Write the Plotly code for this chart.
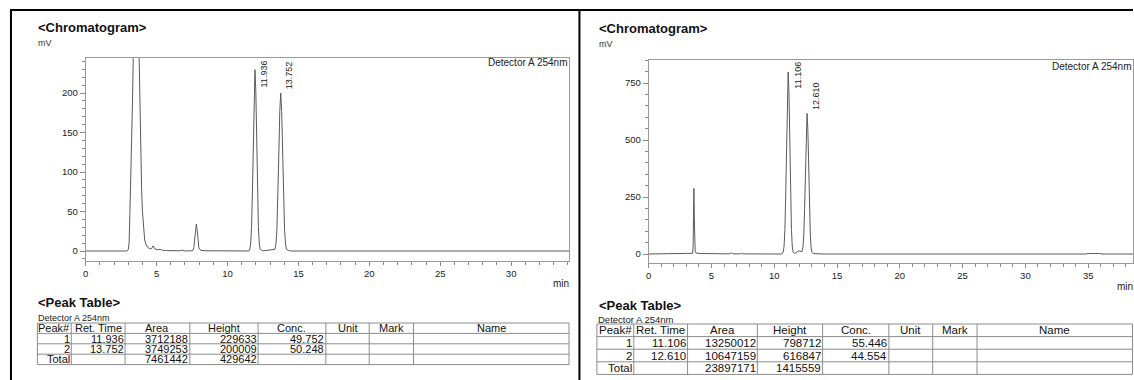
import plotly.graph_objects as go

W, H = 1134, 380
FONT = "Liberation Sans"

# ---------------- data ----------------
# Left chromatogram: time (min) and signal (mV)
left_time = [0.0, 2.9, 3.0, 3.06, 3.12, 3.2, 3.25, 3.3, 3.35, 3.42, 3.55, 3.68, 3.77, 3.83, 3.88,
             3.94, 4.0, 4.08, 4.16, 4.24, 4.35, 4.5, 4.65, 4.75, 4.82, 4.9, 5.05, 5.25, 5.4, 5.7,
             6.7, 6.85, 7.0, 7.55, 7.62, 7.68, 7.74, 7.8, 7.86, 7.92, 7.98, 8.1, 8.4, 11.5,
             11.576, 11.636, 11.696, 11.756, 11.816, 11.876, 11.936, 11.996, 12.056, 12.116,
             12.176, 12.236, 12.296, 12.4, 12.55,
             13.347, 13.415, 13.482, 13.55, 13.617, 13.685, 13.752, 13.82, 13.887, 13.955,
             14.022, 14.09, 14.157, 14.3, 14.5, 34.08]
left_mv = [0.0, 0.0, 1.5, 10, 50, 100, 128, 190, 244, 400, 600, 400, 244, 170, 128,
           80, 50, 25, 14, 9, 5, 3, 3, 6.5, 5, 2.5, 1.5, 2, 1, 0.5,
           0.3, 1, 0, 0.3, 4, 14, 27, 34, 27, 12, 4, 1, 0.3, 0,
           2.5, 10.1, 31.1, 74.6, 139.3, 202.6, 229.6, 202.6, 139.3, 74.6,
           31.1, 10.1, 2.5, 0.8, 0.2,
           2.2, 8.8, 27.1, 64.9, 121.3, 176.5, 200.0, 176.5, 121.3, 64.9,
           27.1, 8.8, 2.2, 0.5, 0, 0]

# Right chromatogram: time (min) and signal (mV)
right_time = [0.0, 3.45, 3.5, 3.54, 3.57, 3.6, 3.63, 3.66, 3.7, 3.76, 3.9, 4.3, 4.6, 4.7, 4.8,
              5.2, 6.4, 6.55, 6.6, 6.66, 6.8, 7.3, 7.38, 7.45, 7.6, 10.6,
              10.716, 10.781, 10.846, 10.911, 10.976, 11.041, 11.106, 11.171, 11.236, 11.301,
              11.366, 11.431, 11.496, 11.6, 11.75, 11.88, 11.97, 12.05, 12.13, 12.22,
              12.285, 12.35, 12.415, 12.48, 12.545, 12.61, 12.675, 12.74, 12.805, 12.87,
              12.935, 13.0, 13.15, 13.4, 14.0, 34.8, 35.0, 35.9, 36.1, 38.57]
right_mv = [0.0, 0.5, 3, 40, 150, 288, 160, 50, 12, 5, 3, 2, 2, 4, 2,
            1.5, 0.5, 1.5, 5, 1.5, 0.5, 0.5, 3, 1, 0.5, 0,
            8.9, 35.1, 108.1, 259.3, 484.4, 704.9, 798.7, 704.9, 484.4, 259.3,
            108.1, 35.1, 8.9, 4, 5, 12, 15, 14, 10, 11,
            30, 83.5, 200.3, 374.1, 544.3, 616.8, 544.3, 374.1, 200.3, 83.5,
            27.1, 6.8, 1.5, 0.5, 0, 0, 2, 2, 0, 0]

# Peak tables
table_header = ["Peak#", "Ret. Time", "Area", "Height", "Conc.", "Unit", "Mark", "Name"]

left_peak_no = ["1", "2", "Total"]
left_ret_time = ["11.936", "13.752", ""]
left_area = ["3712188", "3749253", "7461442"]
left_height = ["229633", "200009", "429642"]
left_conc = ["49.752", "50.248", ""]

right_peak_no = ["1", "2", "Total"]
right_ret_time = ["11.106", "12.610", ""]
right_area = ["13250012", "10647159", "23897171"]
right_height = ["798712", "616847", "1415559"]
right_conc = ["55.446", "44.554", ""]

# Peak labels (retention time, height in µV from the table)
left_label_times = [11.936, 13.752]
left_label_heights_uv = [229633, 200009]
right_label_times = [11.106, 12.610]
right_label_heights_uv = [798712, 616847]

# ---------------- layout geometry (pixels) ----------------
L = dict(x0=83, x1=568, top=58, bot=261, xr=[0, 34.08], yr=[-12.66, 244.3], dy=50, mdy=10)
R = dict(x0=648, x1=1134, top=60, bot=263, xr=[0, 38.57], yr=[-39.5, 851], dy=250, mdy=50)


def px(x):
    return x / W


def py(y):
    return 1 - y / H


fig = go.Figure()
line_style = dict(color="#5a5a5a", width=1)
fig.add_trace(go.Scatter(x=left_time, y=left_mv, mode="lines", line=line_style,
                         xaxis="x", yaxis="y", hoverinfo="skip", showlegend=False))
fig.add_trace(go.Scatter(x=right_time, y=right_mv, mode="lines", line=line_style,
                         xaxis="x2", yaxis="y2", hoverinfo="skip", showlegend=False))

axis_common = dict(showline=True, linecolor="#9a9a9a", linewidth=1, mirror=True,
                   ticks="outside", tickcolor="#8a8a8a", showgrid=False, zeroline=False,
                   tickfont=dict(family=FONT, size=9.5, color="#222"), fixedrange=True)


def xaxis_cfg(P, anchor):
    return dict(axis_common, domain=[px(P["x0"]), px(P["x1"])], range=P["xr"], anchor=anchor,
                tickmode="linear", tick0=0, dtick=5, ticklen=4,
                minor=dict(ticks="outside", ticklen=3, dtick=1, tick0=0, tickcolor="#8a8a8a"))


def yaxis_cfg(P, anchor):
    return dict(axis_common, domain=[py(P["bot"]), py(P["top"])], range=P["yr"], anchor=anchor,
                tickmode="linear", tick0=0, dtick=P["dy"], ticklen=5,
                minor=dict(ticks="outside", ticklen=3, dtick=P["mdy"], tick0=0, tickcolor="#8a8a8a"))


annotations = []
shapes = []


def text(x, y, s, size, xanchor="left", bold=False, color="#111", **kw):
    annotations.append(dict(x=px(x), y=py(y), xref="paper", yref="paper", text=f"<b>{s}</b>" if bold else s,
                            showarrow=False, xanchor=xanchor, yanchor="middle",
                            font=dict(family=FONT, size=size, color=color),
                            borderpad=0, borderwidth=0, **kw))


def hline(x0, x1, y, color, width):
    shapes.append(dict(type="line", xref="paper", yref="paper", x0=px(x0), x1=px(x1),
                       y0=py(y), y1=py(y), line=dict(color=color, width=width)))


def vline(x, y0, y1, color, width):
    shapes.append(dict(type="line", xref="paper", yref="paper", x0=px(x), x1=px(x),
                       y0=py(y0), y1=py(y1), line=dict(color=color, width=width)))


# Page frames
vline(8, 10, 380, "#000", 2)
hline(7, 1134, 10, "#000", 2)
vline(578.5, 10, 380, "#000", 2)

# Panel texts
for P, tx, dy_off in [(L, 35, 0), (R, 598, 1)]:
    text(tx, 27 + dy_off, "&lt;Chromatogram&gt;", 13, bold=True)
    text(tx, 43 + dy_off, "mV", 9, color="#333")
    text(P["x1"] - 1, P["top"] + 5 + dy_off, "Detector A 254nm", 10, xanchor="right", color="#222")

text(568, 283, "min", 10, xanchor="right", color="#222")
text(1118, 286, "min", 10, xanchor="left", color="#222")

text(35, 302, "&lt;Peak Table&gt;", 13, bold=True)
text(598, 305, "&lt;Peak Table&gt;", 13, bold=True)
text(35, 317.5, "Detector A 254nm", 9, color="#222")
text(597, 319.5, "Detector A 254nm", 9.5, color="#222")


# Peak labels (rotated)
def peak_labels(P, times, heights_uv, xref, size=9):
    ph = P["bot"] - P["top"]
    for t, h in zip(times, heights_uv):
        v = h / 1000.0
        ypx = P["top"] + (P["yr"][1] - v) / (P["yr"][1] - P["yr"][0]) * ph
        label = f"{t:.3f}"
        tlen = len(label) * 0.5 * size
        bottom = ypx - 4.5
        top = max(P["top"] + 2, bottom - tlen)
        annotations.append(dict(x=t, y=py(top), xref=xref, yref="paper", text=label,
                                showarrow=False, textangle=-90, xanchor="center", yanchor="top",
                                xshift=9, font=dict(family=FONT, size=size, color="#222"),
                                borderpad=0, borderwidth=0))


peak_labels(L, left_label_times, left_label_heights_uv, "x")
peak_labels(R, right_label_times, right_label_heights_uv, "x2")


# Peak tables
def draw_table(edges, top, row_h, cols, fs):
    rows = [table_header] + [list(r) + ["", "", ""] for r in zip(*cols)]
    n = len(rows)
    lc = "#8c8c8c"
    for i in range(n + 1):
        hline(edges[0], edges[-1], top + i * row_h, lc, 1)
    for e in edges:
        vline(e, top, top + n * row_h, lc, 1)
    for r, row in enumerate(rows):
        yc = top + (r + 0.5) * row_h
        for c, s in enumerate(row):
            if not s:
                continue
            if r == 0 or c >= 5:
                text((edges[c] + edges[c + 1]) / 2, yc, s, fs, xanchor="center", color="#111")
            else:
                text(edges[c + 1] - 1.5, yc, s, fs, xanchor="right", color="#111")


draw_table([34.5, 68.5, 122.5, 187.5, 256, 324, 367.5, 412, 568], 323, 10.4,
           [left_peak_no, left_ret_time, left_area, left_height, left_conc], 11)
draw_table([596, 633, 687, 757, 822.5, 889, 933, 977.5, 1133.5], 324, 12.6,
           [right_peak_no, right_ret_time, right_area, right_height, right_conc], 11.5)

fig.update_layout(
    width=W, height=H, margin=dict(l=0, r=0, t=0, b=0),
    paper_bgcolor="white", plot_bgcolor="white", showlegend=False,
    xaxis=xaxis_cfg(L, "y"), yaxis=yaxis_cfg(L, "x"),
    xaxis2=xaxis_cfg(R, "y2"), yaxis2=yaxis_cfg(R, "x2"),
    annotations=annotations, shapes=shapes,
)

fig.write_html("out.html", config={"displayModeBar": False},
               post_script="document.body.style.margin='0';document.body.style.padding='0';")
